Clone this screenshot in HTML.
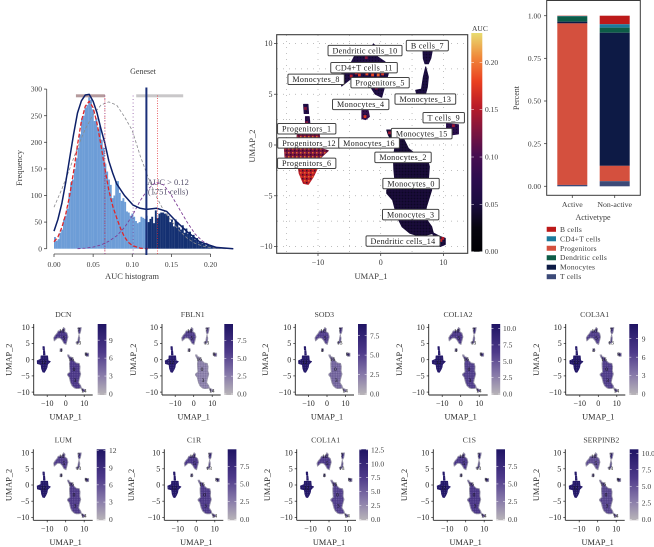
<!DOCTYPE html>
<html>
<head>
<meta charset="utf-8">
<title>AUC analysis figure</title>
<style>
html,body{margin:0;padding:0;background:#fff;width:654px;height:547px;overflow:hidden}
svg{display:block;filter:blur(0.3px)}
text{font-family:"Liberation Serif",serif;fill:#3c3c3c}
</style>
</head>
<body>
<svg id="fig" xmlns="http://www.w3.org/2000/svg" width="654" height="547" viewBox="0 0 654 547">
  <defs>
    <pattern id="speck-dark" width="3" height="3" patternUnits="userSpaceOnUse">
      <rect x="0" y="0" width="1" height="1" fill="#0a0618" opacity="0.6"/>
      <rect x="1.5" y="1.5" width="1" height="1" fill="#2f1650" opacity="0.7"/>
    </pattern>
    <pattern id="speck-hot" width="4" height="4" patternUnits="userSpaceOnUse">
      <rect x="0" y="0" width="1.5" height="1.5" fill="#f0702a" opacity="0.9"/>
      <rect x="2" y="2" width="1.5" height="1.5" fill="#2c0c20" opacity="0.8"/>
    </pattern>
    <pattern id="speck-small" width="2.4" height="2.4" patternUnits="userSpaceOnUse">
      <rect x="0" y="0" width="0.8" height="0.8" fill="#ffffff" opacity="0.22"/>
      <rect x="1.2" y="1.2" width="0.8" height="0.8" fill="#120a40" opacity="0.25"/>
    </pattern>
    <linearGradient id="auc-gradient" x1="0" y1="1" x2="0" y2="0">
      <stop offset="0" stop-color="#000004"/><stop offset="0.111" stop-color="#07050f"/>
      <stop offset="0.222" stop-color="#1a0c40"/><stop offset="0.333" stop-color="#2c0c4e"/>
      <stop offset="0.444" stop-color="#480e50"/><stop offset="0.556" stop-color="#80153e"/>
      <stop offset="0.667" stop-color="#bb1c28"/><stop offset="0.778" stop-color="#ea4020"/>
      <stop offset="0.889" stop-color="#f0883a"/><stop offset="1" stop-color="#e8dc70"/>
    </linearGradient>
    <linearGradient id="purple-gradient" x1="0" y1="1" x2="0" y2="0">
      <stop offset="0" stop-color="#b9b5b9"/><stop offset="0.3" stop-color="#8476a8"/>
      <stop offset="0.6" stop-color="#4e3a8a"/><stop offset="1" stop-color="#1f1464"/>
    </linearGradient>
  </defs>

  <text x="143" y="74" font-size="8" text-anchor="middle">Geneset</text>
  <text x="132" y="279" font-size="8.5" text-anchor="middle">AUC histogram</text>
  <text transform="translate(22,168) rotate(-90)" font-size="8.5" text-anchor="middle">Frequency</text>
  <text x="168" y="185" font-size="8.5" text-anchor="middle" style="fill:#55506a">AUC &gt; 0.12</text>
  <text x="168" y="194.500" font-size="8.5" text-anchor="middle" style="fill:#55506a">(1751 cells)</text>

  <text x="371" y="279" font-size="8.500" text-anchor="middle">UMAP_1</text>
  <text transform="translate(255,146) rotate(-90)" font-size="8.500" text-anchor="middle">UMAP_2</text>
  <text x="472" y="31" font-size="7.500">AUC</text>

  <text x="593" y="220" font-size="8" text-anchor="middle">Activetype</text>
  <text transform="translate(519,98) rotate(-90)" font-size="8" text-anchor="middle">Percent</text>
</svg>
<script>
// ---------- histogram data ----------
const histBinWidth = 0.0023;
const histCounts = [22,15,18,30,36,55,62,75,105,125,130,150,170,190,215,245,250,265,270,285,280,262,240,245,225,230,205,190,160,145,130,120,95,100,127,127,105,90,95,88,70,68,62,66,60,52,48,50,60,58,56,62,50,56,60,48,72,58,66,68,68,66,66,62,50,55,42,55,50,40,36,44,30,38,28,32,22,26,17,20,12,14,9,10,6,7,5,4,3,3,2,2,1,1,1,1,0,0,0,0];
const histXTicks = [0,0.05,0.10,0.15,0.20];
const histXTickLabels = ['0.00','0.05','0.10','0.15','0.20'];
const histYTicks = [0,50,100,150,200,250,300];
const aucThreshold = 0.118;
const redThresholds = [0.065,0.132];
const purpleThresholds = [0.065,0.101];
const totalCurveX = [0,.005,.01,.015,.02,.025,.03,.035,.04,.045,.05,.055,.06,.065,.07,.075,.08,.09,.101,.11,.118,.131,.144,.157,.17,.186,.207,.229];
const totalCurveY = [33,55,85,125,170,215,255,278,289,290,277,255,225,198,165,142,122,100,82,76,74,76,70,50,32,13,2.5,0];
const fitOneX = [0,.005,.01,.015,.02,.025,.03,.035,.04,.045,.05,.055,.06,.065,.07,.075,.08,.085,.09,.095,.1,.11,.12];
const fitOneY = [13,22,40,65,100,145,195,240,268,277,265,235,195,150,110,80,58,38,22,12,6,1,0];
const fitTwoX = [.03,.04,.05,.06,.07,.08,.09,.10,.11,.12,.13,.14,.15,.16,.17,.18,.19,.20,.21,.22,.23];
const fitTwoY = [0,1,3,7,14,24,40,62,90,112,125,120,100,75,50,28,14,6,2,.5,0];
const fitAllX = [0,.01,.02,.03,.04,.05,.06,.07,.08,.09,.10,.11,.12,.13,.14,.15,.16,.17,.18,.19,.2,.21,.22];
const fitAllY = [78,112,150,190,225,252,270,276,270,248,222,175,135,100,72,52,34,20,10,5,2,.5,0];

// ---------- UMAP data (umap_1, umap_2 points per cluster) ----------
const clusterNames = ['Progenitors_main','Progenitors_6','Progenitors_top','Progenitors_neck','Monocytes_main','Dendritic_14','Top_group','B_upper','B_lower','T_cells','Monocytes_4'];
const clusterAuc = [0.125,0.155,0.06,0.07,0.045,0.05,0.055,0.05,0.05,0.07,0.085];
const clusterGroup = ['prog','prog','prog','prog','mono','mono','top','side','side','side','side'];
const clusterOutlines = [
 [[-13.3,1.15],[-9.8,1.15],[-9.57,-.33],[-8.35,-.56],[-9.68,-1.3],[-9.9,-1.5],[-13.3,-1.5],[-15.26,-1.2],[-15.36,-.33],[-13.4,.16]],
 [[-13.3,-1.5],[-9.9,-1.5],[-10.1,-2.3],[-10.74,-3.12],[-11.54,-3.88],[-12.33,-3.78],[-13,-2.8]],
 [[-12.3,4],[-11.6,4],[-11.5,3.1],[-12.2,3.1]],
 [[-12,2.8],[-11.4,2.8],[-11.2,1.5],[-12,1.5]],
 [[2.02,.99],[3.62,.66],[4.41,-.33],[5.74,-.99],[7.34,-1.15],[7.76,-2.13],[7.6,-3.45],[8.13,-4.43],[7.3,-6.08],[7,-7.06],[8.13,-8.05],[8.4,-8.7],[7.34,-8.87],[5.74,-8.9],[4.68,-8.7],[3.4,-8.05],[2.6,-7.06],[1.9,-5.42],[.96,-4.76],[.96,-4.43],[2.3,-3.78],[2.1,-2.46],[2.02,-1.15],[2.29,-.16],[1.22,.99],[.96,1.48],[1.75,1.48]],
 [[8.2,-8.6],[9.4,-9],[10.3,-9.2],[10.3,-9.8],[9.5,-10],[8.8,-9.5]],
 [[-1.17,9.95],[-.37,9.52],[-.53,8.7],[.69,8.2],[1.22,7.06],[.69,5.9],[.16,4.7],[-.9,5.02],[-1.97,6.08],[-3.03,6.67],[-4.36,6.73],[-6.22,5.81],[-6.49,6.73],[-5.85,7.39],[-4.63,8.21],[-4.09,8.87],[-1.97,9.03]],
 [[6.7,9.9],[8.4,9.9],[8,8.55],[7.6,8],[7.07,8],[6.8,8.5]],
 [[7.18,7.7],[7.6,6.7],[7.44,5.7],[7.18,5.1],[5.74,5],[5.58,5.4],[6.5,5.5],[6.8,6.7]],
 [[10.5,2.1],[12.4,2],[12.4,1.1],[11.3,1],[10.5,1.6]],
 [[-3,3.4],[-2,3.4],[-1.8,2.8],[-2.4,2.5],[-3,2.6]]
];
const hotCellU = [-3.4,-2.2,-1.3,-.4,.3,-4.7,-3.9,-.7,-2.3,9.6,9.9,11.6,-2.5,1.4,-.3,-12,-11.8];
const hotCellV = [6.9,7,6.9,6.9,7,6.8,7.1,5.6,8.6,-9.4,-9.2,1.9,2.8,1.2,7.3,3.6,2.2];
const hotCellAuc = [.17,.18,.18,.19,.17,.15,.16,.13,.13,.16,.15,.14,.17,.14,.18,.13,.13];
const labelTexts = ['Dendritic cells_10','CD4+T cells_11','Monocytes_8','Progenitors_5','B cells_7','Monocytes_13','Monocytes_4','T cells_9','Progenitors_1','Monocytes_15','Progenitors_12','Monocytes_16','Monocytes_2','Progenitors_6','Monocytes_0','Monocytes_3','Dendritic cells_14'];
const labelU = [-2.5,-2.66,-10.3,-.1,7.44,7.12,-3.19,10.05,-11.8,6.54,-11.43,-1.86,3.56,-11.8,4.84,4.78,3.56];
const labelV = [9.3,7.62,6.47,6.14,9.79,4.53,4,2.69,1.6,1.12,.2,.2,-1.22,-1.8,-3.8,-6.86,-9.46];
const umapTicksX = [-10,0,10];
const umapTicksY = [-10,-5,0,5,10];
const aucTicks = [0,.05,.10,.15,.20];
const aucTickLabels = ['0.00','0.05','0.10','0.15','0.20'];

// ---------- stacked bar data ----------
const barCategories = ['Active','Non-active'];
const stackNames = ['B cells','CD4+T cells','Dendritic cells','Monocytes','Progenitors','T cells'];
const activeShares = [0.002,0.002,0.031,0.010,0.947,0.008];
const nonActiveShares = [0.050,0.020,0.030,0.780,0.090,0.030];
const legendNames = ['B cells','CD4+T cells','Progenitors','Dendritic cells','Monocytes','T cells'];
const stackColors = {'B cells':'#bc1a1a','CD4+T cells':'#1a7a9c','Progenitors':'#d4503e','Dendritic cells':'#0d5c47','Monocytes':'#0d1a45','T cells':'#3c4a78'};
const percentTicks = [0,.25,.5,.75,1];
const percentTickLabels = ['0.00','0.25','0.50','0.75','1.00'];

// ---------- gene feature plots ----------
const genes = ['DCN','FBLN1','SOD3','COL1A2','COL3A1','LUM','C1R','COL1A1','C1S','SERPINB2'];
const geneMax = [11.7,9.8,9,10.7,11.4,12.2,9.9,12.6,9.9,10.6];
const geneTicks = [[0,3,6,9],[0,2.5,5,7.5],[0,2.5,5,7.5],[0,2.5,5,7.5,10],[0,3,6,9],[0,3,6,9,12],[0,2.5,5,7.5],[0,2.5,5,7.5,10,12.5],[0,2.5,5,7.5],[0,2.5,5,7.5,10]];
const geneTickLabels = [['0','3','6','9'],['0.0','2.5','5.0','7.5'],['0.0','2.5','5.0','7.5'],['0.0','2.5','5.0','7.5','10.0'],['0','3','6','9'],['0','3','6','9','12'],['0.0','2.5','5.0','7.5'],['0.0','2.5','5.0','7.5','10.0','12.5'],['0.0','2.5','5.0','7.5'],['0.0','2.5','5.0','7.5','10.0']];
const progExpression = [11,9,8.5,10,11,11.5,9.3,12,9.3,10];
const topExpression = [7.5,5.5,5,6.5,6.5,7,6,7.5,6,5];
const monoExpression = [7,2,3,6,6.5,7,5.8,7,6,5.5];
const sideExpression = [8,5,6,8,8,9,7.5,9,8,8];
const smallLabelTexts = ['10','5','7','13','4','8','12','16','0','3','14'];
const smallLabelU = [-2.2,-1,7,6.9,-2.6,11,-12,3,4.5,5,9.8];
const smallLabelV = [8.9,6.8,9.2,5.2,3,1.7,-.8,.2,-3,-6.4,-9.5];

// Layout of the small multiples (not data)
const panelLayout = [
 {ax:33.7,x0:65.7,cb:97.7,lx:109,tx:63.3,yx:11.5,row:0},
 {ax:162,x0:193.7,cb:224.3,lx:237.3,tx:192.7,yx:136,row:0},
 {ax:295.3,x0:327,cb:358,lx:370,tx:324.3,yx:268,row:0},
 {ax:428.7,x0:460.7,cb:491.500,lx:503,tx:458,yx:402,row:0},
 {ax:565.7,x0:598.3,cb:629.3,lx:641.7,tx:594.7,yx:539,row:0},
 {ax:33.3,x0:65.7,cb:96.7,lx:109,tx:63.3,yx:11.5,row:1},
 {ax:164.3,x0:196.3,cb:227.7,lx:240,tx:194,yx:134,row:1},
 {ax:296.7,x0:329,cb:359.3,lx:371,tx:325.7,yx:270,row:1},
 {ax:433.3,x0:465.7,cb:496.3,lx:508,tx:469.3,yx:407,row:1},
 {ax:565.3,x0:597.7,cb:629.7,lx:641.7,tx:601.3,yx:539,row:1}
];

const NS = 'http://www.w3.org/2000/svg';
const fig = document.getElementById('fig');
function mk(tag, attrs, parent, txt){
  const e = document.createElementNS(NS, tag);
  for (const k in attrs) e.setAttribute(k, attrs[k]);
  if (txt !== undefined) e.textContent = txt;
  (parent || fig).appendChild(e);
  return e;
}
function hexMix(a,b,t){
  const p=s=>[1,3,5].map(i=>parseInt(s.substr(i,2),16));
  const A=p(a),B=p(b);
  return 'rgb('+A.map((v,i)=>Math.round(v+(B[i]-v)*t)).join(',')+')';
}
function ramp(stops,t){
  t=Math.max(0,Math.min(1,t));
  const f=t*(stops.length-1),i=Math.min(stops.length-2,Math.floor(f));
  return hexMix(stops[i],stops[i+1],f-i);
}
const infernoStops=['#000004','#07050f','#1a0c40','#2c0c4e','#480e50','#80153e','#bb1c28','#ea4020','#f0883a','#e8dc70'];
const purpleStops=['#b9b5b9','#8f84ad','#6a5a9a','#4e3a8a','#34267a','#1f1464'];

// ================= Histogram =================
const hx = v => 54 + 783*v;
const hy = v => 248.7 - 0.532*v;
function drawHistogram(){
  const g = mk('g',{});
  
  
  histCounts.forEach((c,i)=>{
    const x0=i*histBinWidth, dark=x0>=aucThreshold-0.0005;
    const r = mk('rect',{x:hx(x0),y:hy(c),width:hx(histBinWidth)-hx(0)+0.1,height:hy(0)-hy(c),fill:dark?'#143072':'#6d9dd7'},g);
    
    
  });
  // axes
  const xa = mk('line',{x1:hx(0),x2:hx(.2),y1:254,y2:254,stroke:'#444','stroke-width':.8},g);
  
  
  const ya = mk('line',{x1:46.7,x2:46.7,y1:hy(300),y2:hy(0),stroke:'#444','stroke-width':.8},g);
  
  
  histXTicks.forEach((t,i)=>{
    mk('line',{x1:hx(t),x2:hx(t),y1:254,y2:257,stroke:'#444','stroke-width':.8},g);
    const l = mk('text',{x:hx(t),y:267,'font-size':7.5,'text-anchor':'middle'},g,histXTickLabels[i]);
    
    
  });
  histYTicks.forEach(t=>{
    mk('line',{x1:44,x2:46.7,y1:hy(t),y2:hy(t),stroke:'#444','stroke-width':.8},g);
    const l = mk('text',{x:42,y:hy(t)+2.6,'font-size':7.5,'text-anchor':'end'},g,String(t));
    
    
  });
  // threshold spans
  const s1 = mk('rect',{x:hx(redThresholds[0]-.037),y:94.300,width:hx(redThresholds[0])-hx(redThresholds[0]-.037),height:3,fill:'#b59a9c'},g);
  
  
  const s2 = mk('rect',{x:hx(.105),y:94.300,width:hx(.165)-hx(.105),height:3,fill:'#c9c7c9'},g);
  
  
  // fits
  const curve=(xs,ys,stroke,w,dash,name)=>{
    const p = mk('polyline',{points:xs.map((x,i)=>hx(x)+','+hy(ys[i])).join(' '),fill:'none',stroke:stroke,'stroke-width':w,'stroke-dasharray':dash,'stroke-linejoin':'round'},g);
    
    
  };
  curve(fitAllX,fitAllY,'#8a8a8e',.8,'3 2','single-fit-curve');
  curve(fitTwoX,fitTwoY,'#7e3f96',.9,'3 2','second-mode-curve');
  curve(fitOneX,fitOneY,'#e0262a',1.3,'4 2','first-mode-curve');
  curve(totalCurveX,totalCurveY,'#0c1f68',1.5,'none','mixture-curve');
  redThresholds.forEach(t=>{
    const d = mk('line',{x1:hx(t),x2:hx(t),y1:95.5,y2:255,stroke:'#e0262a','stroke-width':.7,'stroke-dasharray':'1 1.5'},g);
    
    
  });
  purpleThresholds.forEach(t=>{
    const d = mk('line',{x1:hx(t),x2:hx(t),y1:95.5,y2:255,stroke:'#7e3f96','stroke-width':.7,'stroke-dasharray':'1 2.5'},g);
    
    
  });
  const th = mk('line',{x1:hx(aucThreshold),x2:hx(aucThreshold),y1:87.5,y2:255,stroke:'#1a2f78','stroke-width':2},g);
  
  
}

// ================= Main UMAP =================
const ux = u => 380.7 + 6.27*u;
const uy = v => 145 - 10.15*v;
function drawUmap(){
  const g = mk('g',{});
  
  
  const gridVals=[-15,-10,-5,0,5,10];
  gridVals.forEach(u=>{
    const l = mk('line',{x1:ux(u),x2:ux(u),y1:35,y2:253,stroke:'#a9a9a9','stroke-width':.7,'stroke-dasharray':'1 5'},g);
    
    
  });
  [-10,-7.5,-5,-2.5,0,2.5,5,7.5,10].forEach(v=>{
    const l = mk('line',{x1:277,x2:467,y1:uy(v),y2:uy(v),stroke:'#a9a9a9','stroke-width':.7,'stroke-dasharray':'1 5'},g);
    
    
  });
  clusterOutlines.forEach((pts,i)=>{
    const s = pts.map(p=>ux(p[0])+','+uy(p[1])).join(' ');
    const poly = mk('polygon',{points:s,fill:ramp(infernoStops,clusterAuc[i]/0.23),stroke:ramp(infernoStops,clusterAuc[i]/0.23),'stroke-width':1,'stroke-linejoin':'round'},g);
    
    
    const sp = mk('polygon',{points:s,fill:(clusterGroup[i]==='prog'&&clusterAuc[i]>0.1)?'url(#speck-hot)':'url(#speck-dark)'},g);
    
    
  });
  hotCellU.forEach((u,i)=>{
    const c = mk('rect',{x:ux(u)-1.4,y:uy(hotCellV[i])-1.4,width:2.8,height:2.8,fill:ramp(infernoStops,hotCellAuc[i]/0.23)},g);
    
    
  });
  // frame
  const fr = mk('rect',{x:276.7,y:34.7,width:191,height:218.6,fill:'none',stroke:'#3a3a3a','stroke-width':1.1},g);
  
  
  umapTicksX.forEach(t=>{
    mk('line',{x1:ux(t),x2:ux(t),y1:253.3,y2:256,stroke:'#444','stroke-width':.8},g);
    const l = mk('text',{x:ux(t),y:265,'font-size':8,'text-anchor':'middle'},g,String(t).replace('-','\u2212'));
    
    
  });
  umapTicksY.forEach(t=>{
    mk('line',{x1:274,x2:276.7,y1:uy(t),y2:uy(t),stroke:'#444','stroke-width':.8},g);
    const l = mk('text',{x:272.5,y:uy(t)+2.7,'font-size':8,'text-anchor':'end'},g,String(t).replace('-','\u2212'));
    
    
  });
  // labels
  labelTexts.forEach((t,i)=>{
    const lg = mk('g',{},g);
    
    
    const box = mk('rect',{fill:'#fff',stroke:'#444','stroke-width':1,rx:1.2,ry:1.2},lg);
    const tx = mk('text',{x:ux(labelU[i]),y:uy(labelV[i])+2.8,'font-size':8.1,'text-anchor':'middle','letter-spacing':'0.3',style:'fill:#222'},lg,t);
    const w = tx.getComputedTextLength()+9;
    box.setAttribute('x',ux(labelU[i])-w/2);
    box.setAttribute('y',uy(labelV[i])-5.2);
    box.setAttribute('width',w);
    box.setAttribute('height',10.4);
  });
  // colorbar
  const cb = mk('rect',{x:471.3,y:33,width:11,height:218.7,fill:'url(#auc-gradient)'},g);
  
  
  const aucY = v => 251.7 - 947*v;
  aucTicks.forEach((t,i)=>{
    mk('line',{x1:471.3,x2:474,y1:aucY(t),y2:aucY(t),stroke:'#fff','stroke-width':.5},g);
    mk('line',{x1:479.6,x2:482.3,y1:aucY(t),y2:aucY(t),stroke:'#fff','stroke-width':.5},g);
    const l = mk('text',{x:485,y:aucY(t)+2.5,'font-size':7.5},g,aucTickLabels[i]);
    
    
  });
}

// ================= Stacked bars =================
const barY = v => 186.3 - 170.6*v;
function drawBars(){
  const g = mk('g',{});
  
  
  const series = [activeShares, nonActiveShares];
  const centers = [572.3,614.7];
  series.forEach((vals,b)=>{
    let top = 1;
    vals.forEach((v,i)=>{
      const r = mk('rect',{x:centers[b]-15,y:barY(top),width:30,height:barY(top-v)-barY(top),fill:stackColors[stackNames[i]]},g);
      
      
      top -= v;
    });
    mk('line',{x1:centers[b],x2:centers[b],y1:195.3,y2:198,stroke:'#444','stroke-width':.8},g);
    const l = mk('text',{x:centers[b],y:207,'font-size':7.8,'text-anchor':'middle'},g,barCategories[b]);
    
    
  });
  const fr = mk('rect',{x:546.7,y:0.5,width:93.6,height:194.8,fill:'none',stroke:'#3a3a3a','stroke-width':1},g);
  
  
  percentTicks.forEach((t,i)=>{
    mk('line',{x1:544,x2:546.7,y1:barY(t),y2:barY(t),stroke:'#444','stroke-width':.8},g);
    const l = mk('text',{x:541,y:barY(t)+2.6,'font-size':7.5,'text-anchor':'end'},g,percentTickLabels[i]);
    
    
  });
  legendNames.forEach((n,i)=>{
    const yy = 229.3 + i*9.48;
    const s = mk('rect',{x:546.7,y:yy-2.5,width:9.3,height:5,fill:stackColors[n]},g);
    
    
    const t = mk('text',{x:560,y:yy+2.5,'font-size':7.5,'letter-spacing':'0.2'},g,n);
    
    
  });
}

// ================= Small multiples =================
function drawPanels(){
  genes.forEach((gene,gi)=>{
    const L = panelLayout[gi];
    const rowShift = L.row*125.3;
    const top=324+rowShift, bot=395+rowShift, y0=359.7+rowShift;
    const sx=u=>L.x0+1.85*u, sy=v=>y0-3.24*v;
    const g = mk('g',{});
    
    
    const exprByGroup={prog:progExpression[gi],top:topExpression[gi],mono:monoExpression[gi],side:sideExpression[gi]};
    clusterOutlines.forEach((pts,i)=>{
      const t = exprByGroup[clusterGroup[i]]/geneMax[gi];
      const c = ramp(purpleStops,t);
      const s = pts.map(q=>sx(q[0])+','+sy(q[1])).join(' ');
      const edge = clusterGroup[i]==='prog' ? c : '#9a96aa';
      const p = mk('polygon',{points:s,fill:c,stroke:edge,'stroke-width':.9,'stroke-linejoin':'round'},g);
      
      
      const sp = mk('polygon',{points:s,fill:'url(#speck-small)'},g);
      
      
    });
    smallLabelTexts.forEach((t,i)=>{
      const l = mk('text',{x:sx(smallLabelU[i]),y:sy(smallLabelV[i])+1.8,'font-size':5.5,'text-anchor':'middle',style:'fill:#111'},g,t);
      
      
    });
    const xa = mk('line',{x1:L.ax,x2:L.x0+27,y1:bot,y2:bot,stroke:'#222','stroke-width':.9},g);
    
    
    const ya = mk('line',{x1:L.ax,x2:L.ax,y1:top,y2:bot,stroke:'#222','stroke-width':.9},g);
    
    
    umapTicksX.forEach(t=>{
      mk('line',{x1:sx(t),x2:sx(t),y1:bot,y2:bot+2,stroke:'#222','stroke-width':.7},g);
      const l = mk('text',{x:sx(t),y:bot+11,'font-size':8,'text-anchor':'middle',style:'fill:#2a2a2a'},g,String(t).replace('-','\u2212'));
      
      
    });
    umapTicksY.forEach(t=>{
      mk('line',{x1:L.ax-2,x2:L.ax,y1:sy(t),y2:sy(t),stroke:'#222','stroke-width':.7},g);
      const l = mk('text',{x:L.ax-4,y:sy(t)+2.7,'font-size':8,'text-anchor':'end',style:'fill:#2a2a2a'},g,String(t).replace('-','\u2212'));
      
      
    });
    const ti = mk('text',{x:L.tx,y:top-7,'font-size':7.8,'text-anchor':'middle'},g,gene);
    
    
    const xt = mk('text',{x:L.x0,y:bot+24.500,'font-size':8.3,'text-anchor':'middle',style:'fill:#2a2a2a'},g,'UMAP_1');
    
    
    const yt = mk('text',{transform:'translate('+L.yx+','+y0+') rotate(-90)','font-size':8.3,'text-anchor':'middle',style:'fill:#2a2a2a'},g,'UMAP_2');
    
    
    const cb = mk('rect',{x:L.cb,y:top,width:8.7,height:71,fill:'url(#purple-gradient)'},g);
    
    
    geneTicks[gi].forEach((t,i)=>{
      const yy = bot-1-(t/geneMax[gi])*70;
      mk('line',{x1:L.cb,x2:L.cb+8.7,y1:yy,y2:yy,stroke:'#fff','stroke-width':.5,'stroke-dasharray':'2 4.7'},g);
      const l = mk('text',{x:L.lx,y:yy+2.6,'font-size':7.5},g,geneTickLabels[gi][i]);
      
      
    });
  });
}
drawHistogram();
drawUmap();
drawBars();
drawPanels();
</script>
</body>
</html>
